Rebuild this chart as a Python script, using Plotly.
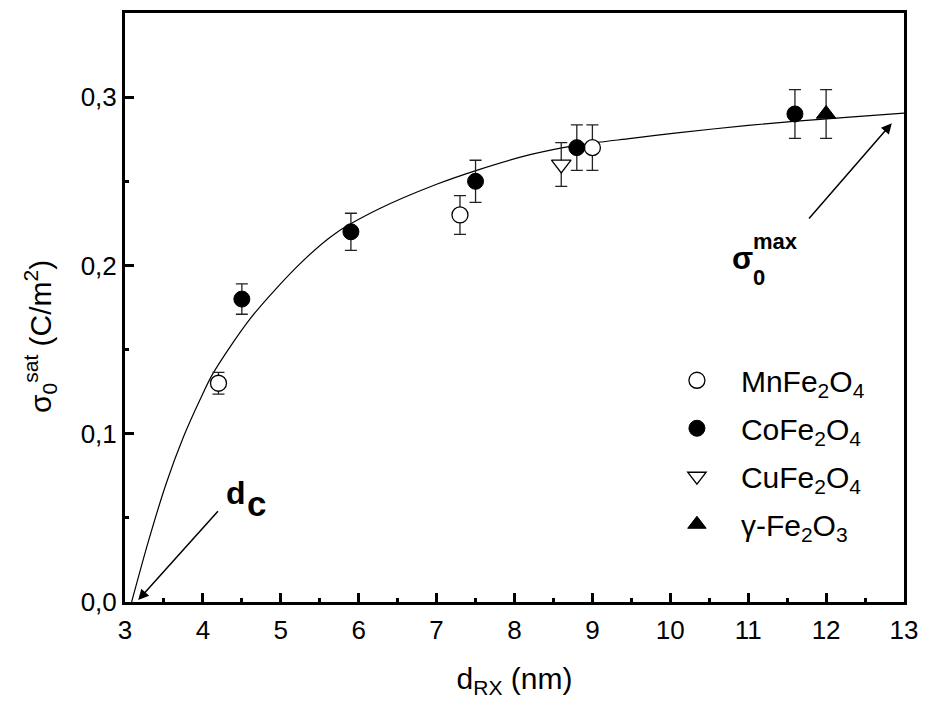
import plotly.graph_objects as go

# ---- data ----
mn_x = [4.2, 7.3, 9.0]
mn_y = [0.13, 0.23, 0.27]
mn_err = [0.0065, 0.0115, 0.0135]

co_x = [4.5, 5.9, 7.5, 8.8, 11.6]
co_y = [0.18, 0.22, 0.25, 0.27, 0.29]
co_err = [0.009, 0.011, 0.0125, 0.0135, 0.0145]

cu_x = [8.6]
cu_y = [0.26]
cu_err = [0.013]

ga_x = [12.0]
ga_y = [0.29]
ga_err = [0.0145]

fit_x = [3.085, 3.3, 3.53, 3.75, 3.958, 4.128, 4.618, 5.235, 5.7, 6.257,
         7.0, 7.534, 8.2, 8.811, 9.5, 10.088, 11.0, 11.62, 12.3, 13.0]
fit_y = [0.0, 0.036, 0.0706, 0.098, 0.1197, 0.1357, 0.169, 0.2005, 0.219, 0.2335,
         0.2482, 0.2568, 0.2658, 0.2715, 0.2755, 0.2788, 0.2832, 0.2857, 0.2881, 0.2905]

x_ticks = [3, 4, 5, 6, 7, 8, 9, 10, 11, 12, 13]
y_ticks = [0.0, 0.1, 0.2, 0.3]
y_ticktext = ["0,0", "0,1", "0,2", "0,3"]

FONT = "Arial, Liberation Sans, sans-serif"

# ---- layout geometry helpers (pixel -> paper / data) ----
L, R, T, B = 125, 18, 10, 104
W, H = 928, 706
PW, PH = W - L - R, H - T - B
XR = (3, 13)
YR = (0, 0.35)


def px_paper(px):
    return (px - L) / PW


def py_paper(py):
    return (H - B - py) / PH


def px_data(px):
    return XR[0] + (px - L) / PW * (XR[1] - XR[0])


def py_data(py):
    return YR[0] + (H - B - py) / PH * (YR[1] - YR[0])


fig = go.Figure()

fig.add_trace(go.Scatter(x=fit_x, y=fit_y, mode="lines",
                         line=dict(color="black", width=1.2, shape="spline", smoothing=0.8),
                         showlegend=False, hoverinfo="skip"))

err_style = dict(type="data", visible=True, color="#222222", thickness=1.3, width=6)

fig.add_trace(go.Scatter(x=mn_x, y=mn_y, mode="markers", name="MnFe<sub>2</sub>O<sub>4</sub>",
                         legendgroup="mn",
                         marker=dict(symbol="circle", size=16, color="white",
                                     line=dict(color="black", width=1.3)),
                         error_y=dict(array=mn_err, **err_style)))
fig.add_trace(go.Scatter(x=co_x, y=co_y, mode="markers", name="CoFe<sub>2</sub>O<sub>4</sub>",
                         legendgroup="co",
                         marker=dict(symbol="circle", size=16, color="black",
                                     line=dict(color="black", width=1)),
                         error_y=dict(array=co_err, **err_style)))
fig.add_trace(go.Scatter(x=cu_x, y=cu_y, mode="markers", name="CuFe<sub>2</sub>O<sub>4</sub>",
                         legendgroup="cu",
                         marker=dict(symbol="triangle-down", size=17, color="white",
                                     line=dict(color="black", width=1.3)),
                         error_y=dict(array=cu_err, **err_style)))
fig.add_trace(go.Scatter(x=ga_x, y=ga_y, mode="markers", name="γ-Fe<sub>2</sub>O<sub>3</sub>",
                         legendgroup="ga",
                         marker=dict(symbol="triangle-up", size=17, color="black",
                                     line=dict(color="black", width=1)),
                         error_y=dict(array=ga_err, **err_style)))

axis_common = dict(showgrid=False, zeroline=False, showline=True, linecolor="black",
                   linewidth=3, mirror=True, ticks="inside", tickcolor="black",
                   tickwidth=3, ticklen=9,
                   tickfont=dict(family=FONT, size=26, color="black"))

fig.update_xaxes(range=list(XR), tickvals=x_ticks, ticklabelstandoff=3,
                 minor=dict(dtick=0.5, ticks="inside", ticklen=4, tickwidth=3, tickcolor="black"),
                 title=dict(text="d<sub>RX</sub> (nm)", font=dict(family=FONT, size=30, color="black"),
                            standoff=24),
                 **axis_common)
fig.update_yaxes(range=list(YR), tickvals=y_ticks, ticktext=y_ticktext,
                 minor=dict(dtick=0.05, ticks="inside", ticklen=4, tickwidth=3, tickcolor="black"),
                 **axis_common)

annotations = [
    # y-axis title
    dict(text="σ<sub>0</sub><sup>sat</sup> (C/m<sup>2</sup>)", textangle=-90,
         xref="paper", yref="paper", x=px_paper(40), y=py_paper(335),
         xanchor="center", yanchor="middle", showarrow=False,
         font=dict(family=FONT, size=30, color="black")),
    # d_c label
    dict(text="<b>d</b>", xref="paper", yref="paper", x=px_paper(225), y=py_paper(492),
         xanchor="left", yanchor="middle", showarrow=False,
         font=dict(family=FONT, size=32, color="black")),
    dict(text="<b>c</b>", xref="paper", yref="paper", x=px_paper(246), y=py_paper(503),
         xanchor="left", yanchor="middle", showarrow=False,
         font=dict(family=FONT, size=35, color="black")),
    # sigma_0^max label
    dict(text="<b>σ</b>", xref="paper", yref="paper", x=px_paper(735), y=py_paper(257),
         xanchor="left", yanchor="middle", showarrow=False,
         font=dict(family=FONT, size=31, color="black")),
    dict(text="<b>max</b>", xref="paper", yref="paper", x=px_paper(756), y=py_paper(240),
         xanchor="left", yanchor="middle", showarrow=False,
         font=dict(family=FONT, size=22, color="black")),
    dict(text="<b>0</b>", xref="paper", yref="paper", x=px_paper(756), y=py_paper(276),
         xanchor="left", yanchor="middle", showarrow=False,
         font=dict(family=FONT, size=22, color="black")),
    # arrows
    dict(text="", xref="x", yref="y", axref="x", ayref="y",
         x=px_data(138.3), y=py_data(600), ax=px_data(220), ay=py_data(509.3),
         showarrow=True, arrowhead=2, arrowsize=1.4, arrowwidth=1.5, arrowcolor="black"),
    dict(text="", xref="x", yref="y", axref="x", ayref="y",
         x=px_data(897.7), y=py_data(120.7), ax=px_data(813), ay=py_data(218),
         showarrow=True, arrowhead=2, arrowsize=1.4, arrowwidth=1.5, arrowcolor="black"),
]

fig.update_layout(
    width=W, height=H,
    margin=dict(l=L, r=R, t=T, b=B),
    paper_bgcolor="white", plot_bgcolor="white",
    font=dict(family=FONT, color="black"),
    showlegend=True,
    legend=dict(x=px_paper(657), y=py_paper(353), xanchor="left", yanchor="top",
                bgcolor="rgba(0,0,0,0)", borderwidth=0, itemwidth=78,
                tracegroupgap=6,
                font=dict(family=FONT, size=30, color="black")),
    annotations=annotations,
)

fig.write_html("out.html")
